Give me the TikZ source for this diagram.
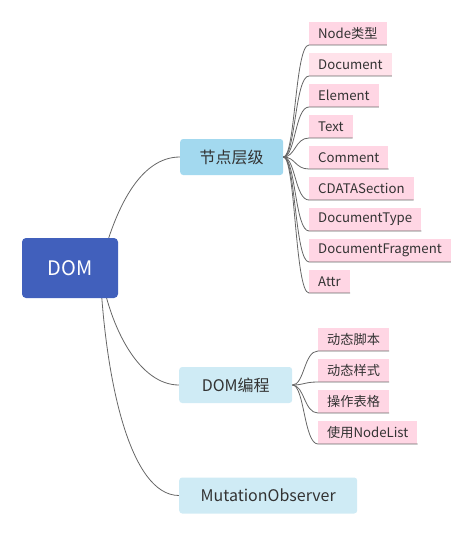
\documentclass[tikz,border=0pt]{standalone}
\usepackage{fontspec}
\setmainfont{Noto Sans CJK SC}
\usetikzlibrary{backgrounds,calc}
\definecolor{rootblue}{HTML}{4160BC}
\definecolor{lvlone}{HTML}{A3D9EF}
\definecolor{lvlonel}{HTML}{CFEBF5}
\definecolor{leafpink}{HTML}{FFD6E4}
\definecolor{leafpinkl}{HTML}{FFE2EA}
\definecolor{txt}{HTML}{333333}
\definecolor{conn}{HTML}{666666}
\begin{document}
\begin{tikzpicture}[x=1pt,y=-1pt,
  rootbox/.style={fill=rootblue,text=white,rounded corners=4pt,minimum width=96pt,minimum height=60pt,inner sep=0pt,font=\fontsize{20}{24}\selectfont},
  topicbox/.style={fill=lvlonel,text=txt,rounded corners=3pt,minimum height=36pt,inner xsep=19pt,inner ysep=0pt,anchor=west,font=\fontsize{16}{19}\selectfont},
  leafbox/.style={fill=leafpink,text=txt,minimum height=23pt,inner xsep=9pt,inner ysep=0pt,anchor=south west,font=\fontsize{13.2}{16}\selectfont},
  link/.style={draw=conn,line width=0.8pt},
  leaflink/.style={draw=conn,line width=0.8pt}
]
\useasboundingbox (0,0) rectangle (472,535);

\node[rootbox] (dom) at (70,268) {DOM};
\node[topicbox,fill=lvlone,minimum width=103pt] (jd) at (180,157) {节点层级};
\node[topicbox,minimum width=113pt] (bc) at (179,385) {DOM编程};
\node[topicbox,minimum width=178pt] (mo) at (179,495.5) {MutationObserver};

\node[leafbox] (l1) at (309,45) {Node类型};
\node[leafbox,fill=leafpinkl] (l2) at (309,76) {Document};
\node[leafbox] (l3) at (309,107) {Element};
\node[leafbox] (l4) at (309,138) {Text};
\node[leafbox] (l5) at (309,169) {Comment};
\node[leafbox] (l6) at (309,200) {CDATASection};
\node[leafbox] (l7) at (309,231) {DocumentType};
\node[leafbox] (l8) at (309,262) {DocumentFragment};
\node[leafbox] (l9) at (309,293) {Attr};

\node[leafbox] (m1) at (318,351) {动态脚本};
\node[leafbox] (m2) at (318,382) {动态样式};
\node[leafbox] (m3) at (318,413) {操作表格};
\node[leafbox] (m4) at (318,444) {使用NodeList};

\coordinate (ds) at ($(dom.center)+(30,0)$);
\begin{pgfonlayer}{background}
\draw[link] (ds) .. controls +(15,-60) and +(-40,0) .. (jd.west);
\draw[link] (ds) .. controls +(10,62) and +(-39,0) .. (bc.west);
\draw[link] (ds) .. controls +(5,112) and +(-49,0) .. (mo.west);
\end{pgfonlayer}

\foreach \l in {l1,l2,l3,l4,l5,l6,l7,l8,l9}{
  \draw[leaflink] (jd.east) .. controls +(12,0) and +(-14,0) .. (\l.south west) -- (\l.south east);
}
\foreach \l in {m1,m2,m3,m4}{
  \draw[leaflink] (bc.east) .. controls +(12,0) and +(-14,0) .. (\l.south west) -- (\l.south east);
}
\end{tikzpicture}
\end{document}
